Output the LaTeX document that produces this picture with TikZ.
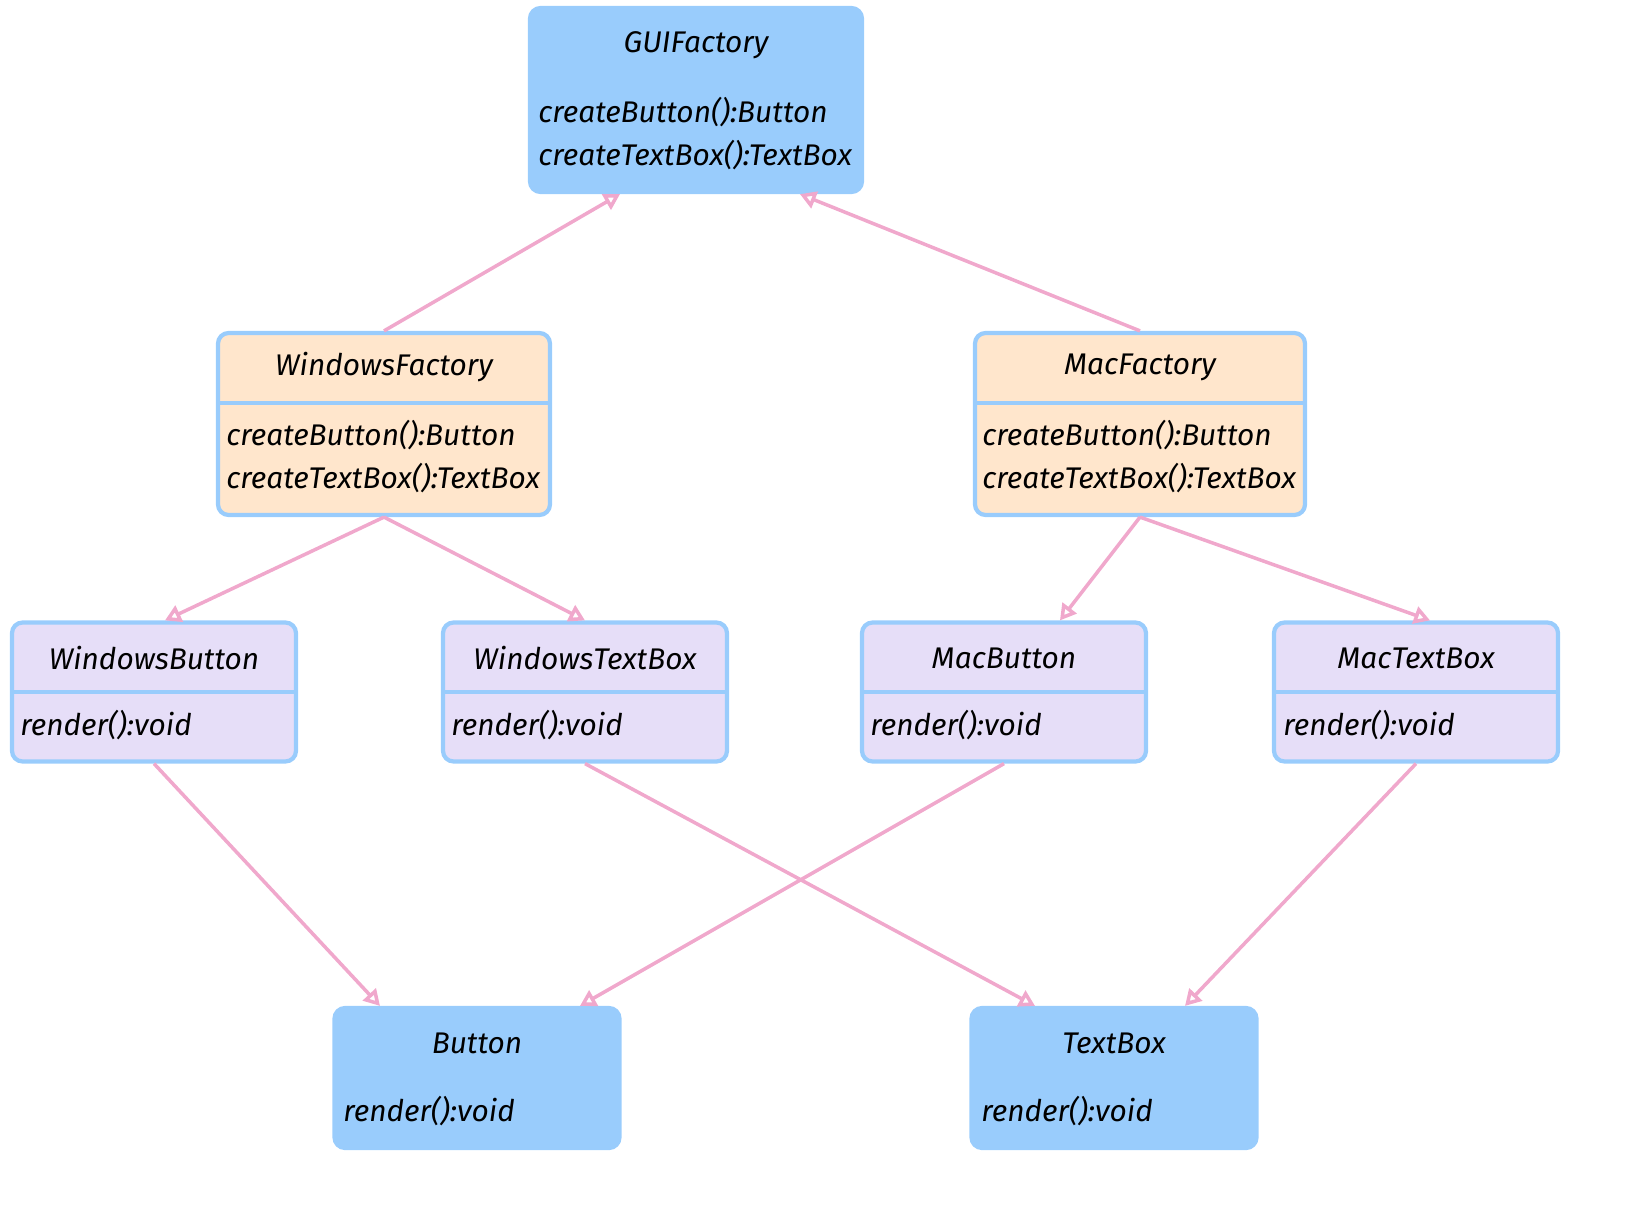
\documentclass[tikz,border=0pt]{standalone}
\usepackage{fontspec}
\setmainfont{Fira Sans}
\usetikzlibrary{arrows.meta}
\definecolor{iface}{HTML}{99CCFC}
\definecolor{fact}{HTML}{FFE6CC}
\definecolor{prod}{HTML}{E6DEF8}
\definecolor{edge}{HTML}{99CCFC}
\definecolor{link}{HTML}{F0A8CC}
\tikzset{>={Triangle[open,length=9pt,width=10pt]}}
\begin{document}
\begin{tikzpicture}[x=0.02cm,y=-0.02cm,
    box/.style={draw=edge,line width=2.4pt,rounded corners=6pt,inner sep=0pt},
    txt/.style={font=\fontsize{17}{20}\selectfont\itshape,inner sep=0pt},
    rel/.style={->,draw=link,line width=2pt}]
        \useasboundingbox (0,0) rectangle (1647,1210);
        % interfaces
        \node[box,fill=iface,minimum width=332*0.02cm,minimum height=184*0.02cm] (gui) at (696,100) {};
        \node[box,fill=iface,minimum width=285*0.02cm,minimum height=140*0.02cm] (btn) at (477,1078) {};
        \node[box,fill=iface,minimum width=285*0.02cm,minimum height=140*0.02cm] (tb) at (1114,1078) {};
        % factories
        \node[box,fill=fact,minimum width=332*0.02cm,minimum height=182*0.02cm] (wf) at (384,424) {};
        \node[box,fill=fact,minimum width=330*0.02cm,minimum height=182*0.02cm] (mf) at (1140,424) {};
        % products
        \node[box,fill=prod,minimum width=284*0.02cm,minimum height=139*0.02cm] (wb) at (154,692) {};
        \node[box,fill=prod,minimum width=284*0.02cm,minimum height=139*0.02cm] (wt) at (585,692) {};
        \node[box,fill=prod,minimum width=284*0.02cm,minimum height=139*0.02cm] (mb) at (1004,692) {};
        \node[box,fill=prod,minimum width=284*0.02cm,minimum height=139*0.02cm] (mt) at (1416,692) {};

        \draw[edge,line width=2.4pt] (218,403) -- (550,403);
        \draw[edge,line width=2.4pt] (975,403) -- (1305,403);
        \foreach \l/\r in {12/296,443/727,862/1146,1275/1558}
            \draw[edge,line width=2.4pt] (\l,692) -- (\r,692);

        % labels
        \node[txt] (guiT) at (696,45) {GUIFactory};
        \node[txt,anchor=west] (guiA) at (538,112) {createButton():Button};
        \node[txt,anchor=west] (guiB) at (538,155) {createTextBox():TextBox};
        \node[txt] (wfT) at (384,367) {WindowsFactory};
        \node[txt,anchor=west] (wfA) at (226,435) {createButton():Button};
        \node[txt,anchor=west] (wfB) at (226,478) {createTextBox():TextBox};
        \node[txt] (mfT) at (1140,367) {MacFactory};
        \node[txt,anchor=west] (mfA) at (982,435) {createButton():Button};
        \node[txt,anchor=west] (mfB) at (982,478) {createTextBox():TextBox};
        \node[txt] (wbT) at (154,658) {WindowsButton};
        \node[txt,anchor=west] (wbA) at (20,725) {render():void};
        \node[txt] (wtT) at (585,658) {WindowsTextBox};
        \node[txt,anchor=west] (wtA) at (451,725) {render():void};
        \node[txt] (mbT) at (1004,658) {MacButton};
        \node[txt,anchor=west] (mbA) at (870,725) {render():void};
        \node[txt] (mtT) at (1416,658) {MacTextBox};
        \node[txt,anchor=west] (mtA) at (1283,725) {render():void};
        \node[txt] (btnT) at (477,1043) {Button};
        \node[txt,anchor=west] (btnA) at (343,1111) {render():void};
        \node[txt] (tbT) at (1114,1043) {TextBox};
        \node[txt,anchor=west] (tbA) at (981,1111) {render():void};

        % relations
        \draw[rel] (wf.north) -- ([xshift=-76*0.02cm]gui.south);
        \draw[rel] (mf.north) -- ([xshift=104*0.02cm]gui.south);
        \draw[rel] (wf.south) -- ([xshift=11*0.02cm]wb.north);
        \draw[rel] (wf.south) -- (wt.north);
        \draw[rel] (mf.south) -- ([xshift=56*0.02cm]mb.north);
        \draw[rel] (mf.south) -- ([xshift=14*0.02cm]mt.north);
        \draw[rel] (wb.south) -- ([xshift=-97*0.02cm]btn.north);
        \draw[rel] (mb.south) -- ([xshift=103*0.02cm]btn.north);
        \draw[rel] (wt.south) -- ([xshift=-79*0.02cm]tb.north);
        \draw[rel] (mt.south) -- ([xshift=71*0.02cm]tb.north);
    \end{tikzpicture}
\end{document}
